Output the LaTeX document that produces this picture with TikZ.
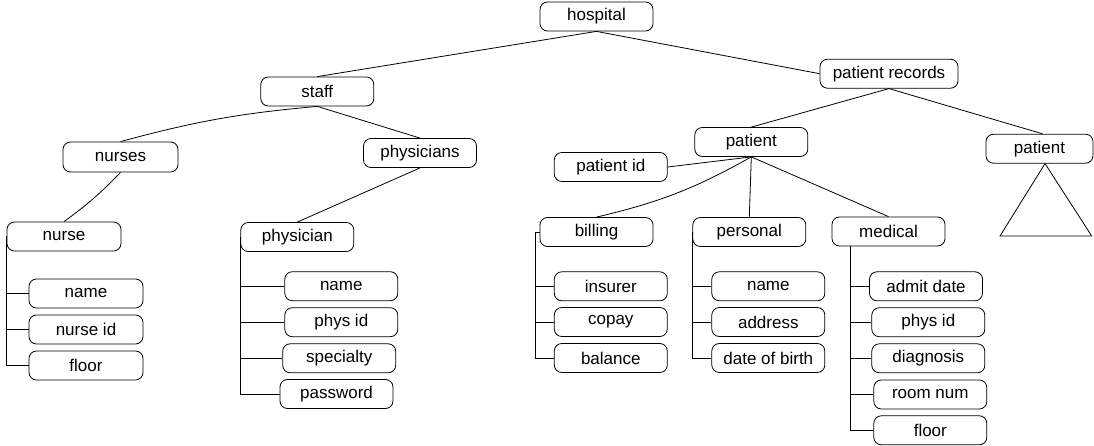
\documentclass[tikz,border=0pt]{standalone}
\usepackage{fontspec}
\setmainfont{Liberation Sans}
\begin{document}
\begin{tikzpicture}[x=1pt,y=-1pt,
  bx/.style={draw, rounded corners=7.5pt, minimum height=29pt, minimum width=#1, inner sep=0pt,
     font=\fontsize{17}{20}\selectfont, line width=0.8pt},
  bx/.default=113pt,
  conn/.style={line width=0.8pt}]
\useasboundingbox (0,0) rectangle (1094,446);
% top levels
\node[bx] (hospital) at (596.5,16.5) {hospital};
\node[bx] (staff) at (317.3,91.5) {staff};
\node[bx=138pt] (precords) at (889,73.7) {patient records};
\node[bx=115pt, minimum height=30pt] (nurses) at (120.5,157) {nurses};
\node[bx] (physicians) at (420,153) {physicians};
\node[bx=114pt] (nurse) at (64,236.5) {nurse};
\node[bx] (physician) at (297.3,237) {physician};
% nurse attributes
\node[bx=114pt] (nname) at (86,293.5) {name};
\node[bx=114pt] (nid) at (86,329.5) {nurse id};
\node[bx=114pt] (nfloor) at (86,365.5) {floor};
% physician attributes
\node[bx] (pname) at (341.3,286.2) {name};
\node[bx] (pid) at (341.3,322.2) {phys id};
\node[bx] (pspec) at (339.2,358.3) {specialty};
\node[bx] (ppass) at (336.5,394) {password};
% patient
\node[bx] (patient) at (751.3,142) {patient};
\node[bx] (patid) at (610.8,167) {patient id};
\node[bx] (billing) at (596.5,232) {billing};
\node[bx] (personal) at (749.3,232) {personal};
\node[bx] (medical) at (888.5,231.5) {medical};
\node[bx] (insurer) at (610.8,286.3) {insurer};
\node[bx] (copay) at (610.8,322) {copay};
\node[bx] (balance) at (610.8,358) {balance};
\node[bx] (p2name) at (768.3,286.3) {name};
\node[bx] (address) at (768.3,322) {address};
\node[bx] (dob) at (768.3,358) {date of birth};
\node[bx] (admit) at (926,286.3) {admit date};
\node[bx] (mphys) at (928.3,322.2) {phys id};
\node[bx] (diag) at (928.3,358.3) {diagnosis};
\node[bx] (room) at (930.3,394.5) {room num};
\node[bx] (mfloor) at (930.3,430.3) {floor};
\node[bx=107pt] (patient2) at (1039.5,148.7) {patient};
% connectors
\draw[conn] (hospital.south) -- (staff.north);
\draw[conn] (hospital.south) -- (precords.west);
\draw[conn] (nurses.north) to[bend left=5] (staff.south);
\draw[conn] (staff.south) -- (physicians.north);
\draw[conn] (nurse.north) to[bend right=5] (nurses.south);
\draw[conn] (physicians.south) -- (physician.north);
\draw[conn] (precords.south) -- (patient.north);
\draw[conn] (precords.south) -- ([xshift=3pt]patient2.north);
\draw[conn] (patient.south) -- (patid.east);
\draw[conn] (billing.north) to[bend right=8] (patient.south);
\draw[conn] (patient.south) -- (personal.north);
\draw[conn] (patient.south) -- (medical.north);
% nurse tree
\draw[conn] (nurse.west) |- (nfloor.west);
\draw[conn] (nurse.west |- nname.west) -- (nname.west);
\draw[conn] (nurse.west |- nid.west) -- (nid.west);
% physician tree
\draw[conn] (physician.west) |- (ppass.west);
\draw[conn] (physician.west |- pname.west) -- (pname.west);
\draw[conn] (physician.west |- pid.west) -- (pid.west);
\draw[conn] (physician.west |- pspec.west) -- (pspec.west);
% billing tree
\coordinate (bv) at ([xshift=-4.5pt]billing.west);
\draw[conn] (billing.west) -- (bv) |- (balance.west);
\draw[conn] (bv |- insurer.west) -- (insurer.west);
\draw[conn] (bv |- copay.west) -- (copay.west);
% personal tree
\draw[conn] (personal.west) |- (dob.west);
\draw[conn] (personal.west |- p2name.west) -- (p2name.west);
\draw[conn] (personal.west |- address.west) -- (address.west);
% medical tree
\coordinate (mv) at ([xshift=-38.5pt]medical.south);
\draw[conn] (mv) |- (mfloor.west);
\draw[conn] (mv |- admit.west) -- (admit.west);
\draw[conn] (mv |- mphys.west) -- (mphys.west);
\draw[conn] (mv |- diag.west) -- (diag.west);
\draw[conn] (mv |- room.west) -- (room.west);
% subtree triangle
\coordinate (apex) at ([xshift=5.5pt]patient2.south);
\draw[conn] (apex) -- (1000,236) -- (1091.7,236) -- cycle;
\end{tikzpicture}
\end{document}
